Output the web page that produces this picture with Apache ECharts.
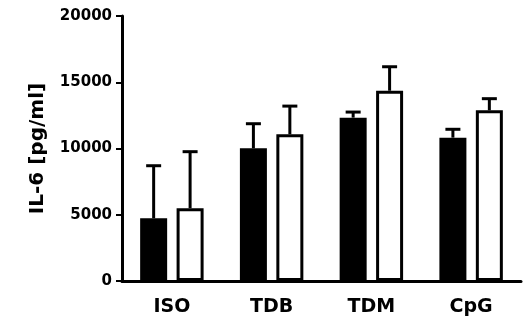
<!DOCTYPE html>
<html>
<head>
<meta charset="utf-8">
<script src="https://cdn.jsdelivr.net/npm/echarts@6/dist/echarts.min.js"></script>
<style>html,body{margin:0;padding:0;background:#fff}#c{width:525px;height:324px}</style>
</head>
<body>
<div id="c"></div>
<script>
var categories = ['ISO', 'TDB', 'TDM', 'CpG'];
var blackValues = [4730, 10010, 12330, 10820];
var blackErrTop = [8700, 11870, 12750, 11450];
var whiteValues = [5490, 11070, 14360, 12880];
var whiteErrTop = [9760, 13200, 16170, 13760];
var yTicks = [0, 5000, 10000, 15000, 20000];

var BAR_W = 27;
var BAR_GAP = 0.35;
var OFFSET = (BAR_W + BAR_W * BAR_GAP) / 2;
var FONT = 'DejaVu Sans, sans-serif';

function errSeries(values, tops, dir) {
  var data = values.map(function (v, i) { return [i, v, tops[i]]; });
  return {
    type: 'custom',
    silent: true,
    z: 1,
    data: data,
    renderItem: function (params, api) {
      var i = api.value(0);
      var p0 = api.coord([i, api.value(1)]);
      var p1 = api.coord([i, api.value(2)]);
      var x = p0[0] + dir * OFFSET;
      var style = { stroke: '#000', lineWidth: 3 };
      return {
        type: 'group',
        children: [
          { type: 'line', shape: { x1: x, y1: p0[1], x2: x, y2: p1[1] }, style: style },
          { type: 'line', shape: { x1: x - 7.5, y1: p1[1], x2: x + 7.5, y2: p1[1] }, style: style }
        ]
      };
    }
  };
}

var chart = echarts.init(document.getElementById('c'), null, { renderer: 'canvas' });
chart.setOption({
  animation: false,
  backgroundColor: '#fff',
  grid: { left: 122, right: 4, top: 16, bottom: 43, containLabel: false },
  xAxis: {
    type: 'category',
    data: categories,
    axisLine: { lineStyle: { color: '#000', width: 3 } },
    axisTick: { alignWithLabel: true, length: 5, lineStyle: { color: '#000', width: 2 } },
    axisLabel: { color: '#000', fontWeight: 'bold', fontSize: 19, fontFamily: FONT, margin: 17 }
  },
  yAxis: {
    type: 'value',
    min: yTicks[0],
    max: yTicks[yTicks.length - 1],
    interval: yTicks[1] - yTicks[0],
    name: 'IL-6 [pg/ml]',
    nameLocation: 'middle',
    nameRotate: 90,
    nameGap: 74,
    nameTextStyle: { color: '#000', fontWeight: 'bold', fontSize: 20, fontFamily: FONT },
    splitLine: { show: false },
    axisLine: { show: true, lineStyle: { color: '#000', width: 3 } },
    axisTick: { show: true, length: 6, lineStyle: { color: '#000', width: 2 } },
    axisLabel: {
      color: '#000', fontWeight: 'bold', fontSize: 15, fontFamily: FONT, margin: 10,
      formatter: function (v) { return String(v); }
    }
  },
  series: [
    errSeries(blackValues, blackErrTop, -1),
    errSeries(whiteValues, whiteErrTop, 1),
    {
      type: 'bar', z: 2, data: blackValues, barWidth: BAR_W, barGap: (BAR_GAP * 100) + '%',
      itemStyle: { color: '#000', borderColor: '#000', borderWidth: 3 }
    },
    {
      type: 'bar', z: 2, data: whiteValues, barWidth: BAR_W, barGap: (BAR_GAP * 100) + '%',
      itemStyle: { color: '#fff', borderColor: '#000', borderWidth: 3 }
    }
  ]
});
</script>
</body>
</html>
